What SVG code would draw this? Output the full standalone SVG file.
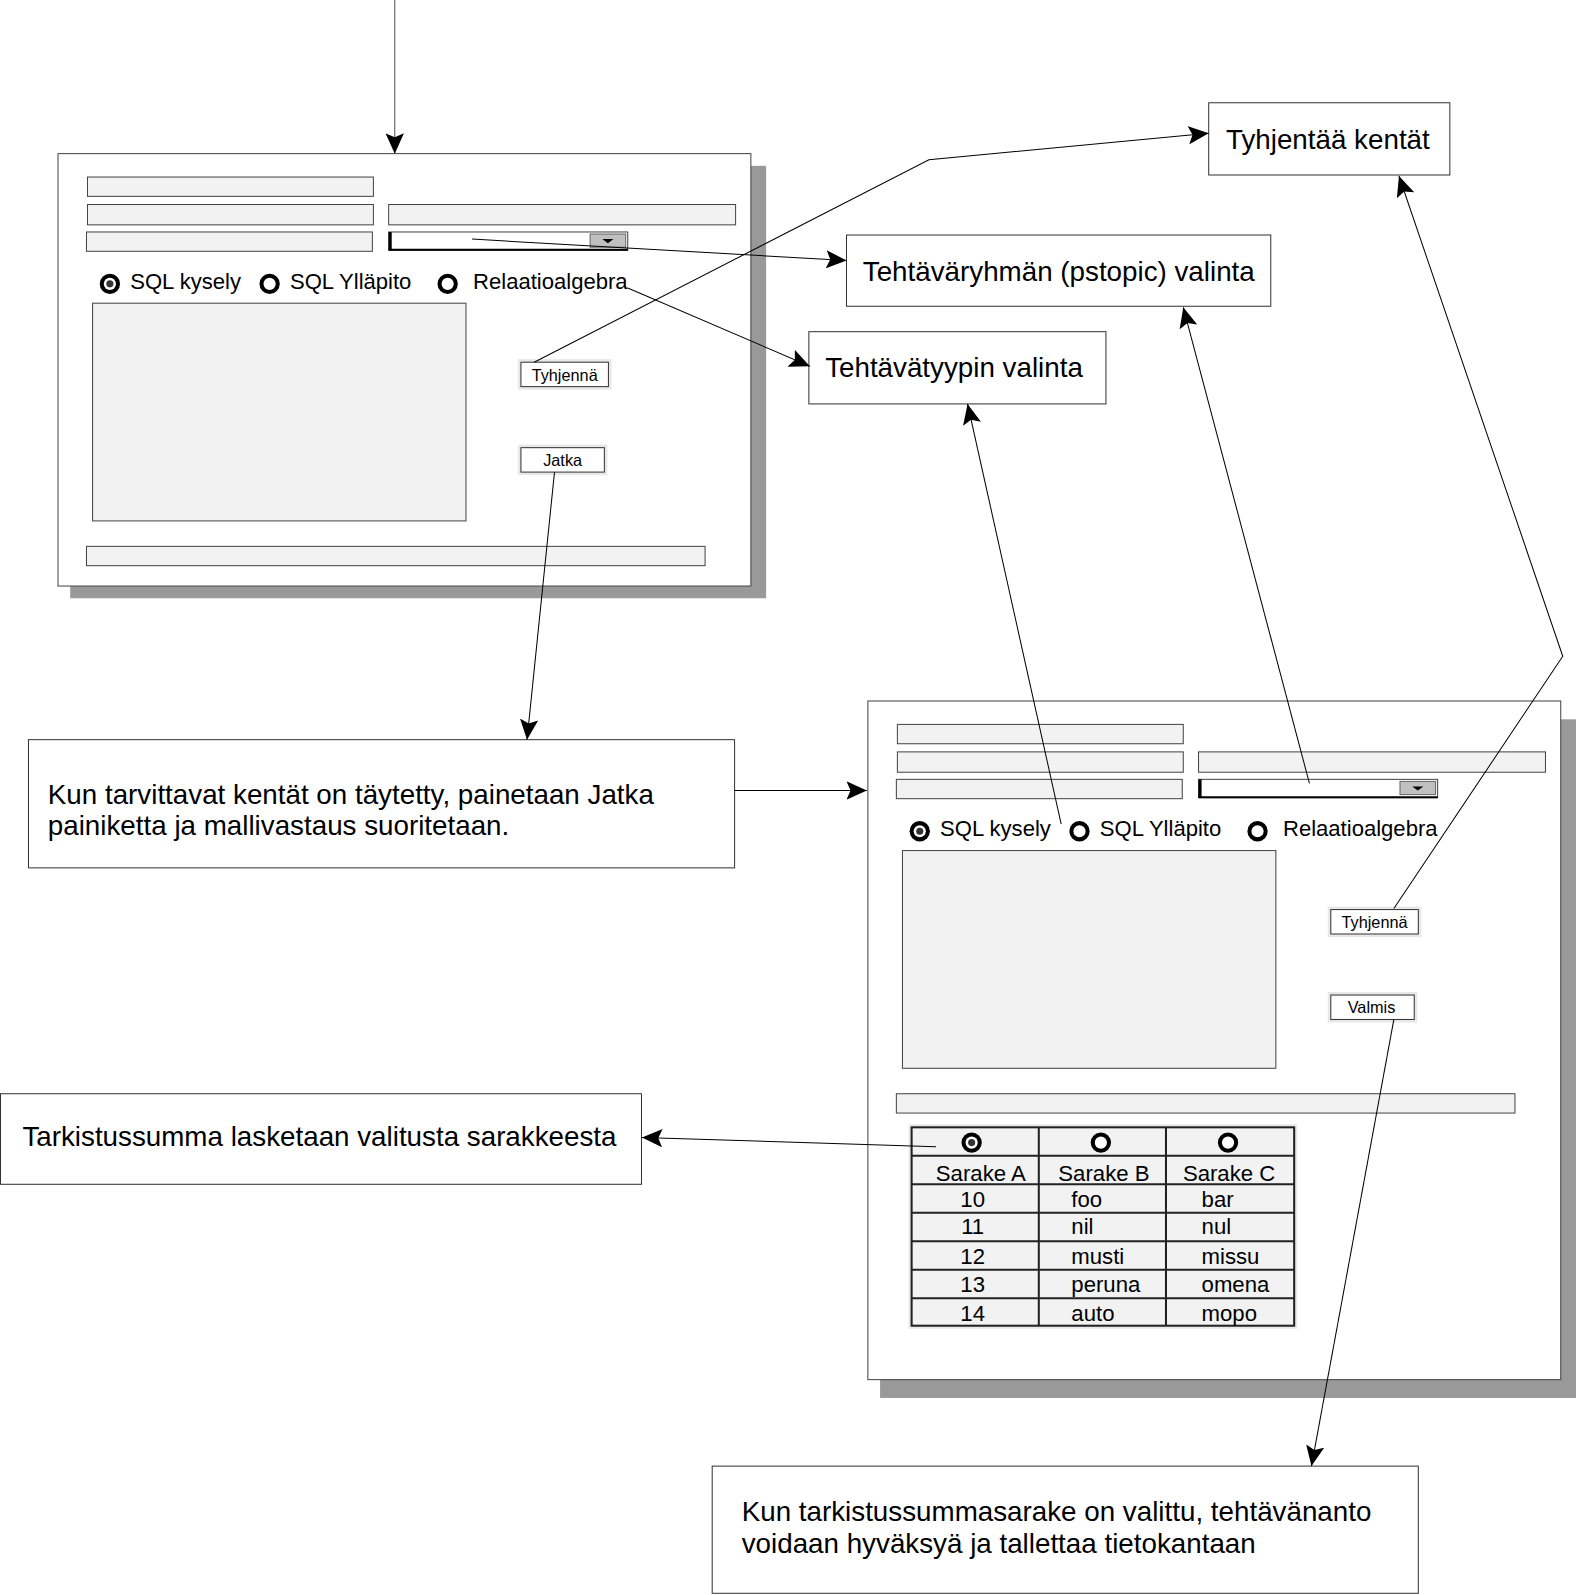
<svg xmlns="http://www.w3.org/2000/svg" width="1576" height="1595" viewBox="0 0 1576 1595">
<defs>
<marker id="ah" viewBox="0 0 20 18" refX="20" refY="9" markerWidth="20" markerHeight="18" markerUnits="userSpaceOnUse" orient="auto">
<path d="M0,0 L20,9 L0,18 L4,9 z" fill="#000"/>
</marker>
<style>
text{font-family:"Liberation Sans",Arial,sans-serif;fill:#000}
.box{fill:#fff;stroke:#333;stroke-width:1}
.bt{font-size:27.3px}
.form{fill:#fff;stroke:#444;stroke-width:1}
.shadow{fill:#999}
.fld{fill:#f2f2f2;stroke:#444;stroke-width:1}
.rl{font-size:21.7px}
.btn{fill:#fff;stroke:#333;stroke-width:1}
.halo{fill:#e8e8e8}
.bl{font-size:16px}
.conn{fill:none;stroke:#000;stroke-width:1;marker-end:url(#ah)}
.ro{fill:#fff;stroke:#000;stroke-width:4}
.grid{stroke:#222;stroke-width:2}
.tt{font-size:21.8px}
</style>
</defs>
<rect width="1576" height="1595" fill="#fff"/>
<g transform="scale(1.01743)">

<g id="form1">
<rect class="shadow" x="69" y="163" width="684" height="425"/>
<rect class="form" x="57" y="151" width="681" height="425"/>
<rect class="fld" x="86" y="174" width="281" height="19"/>
<rect class="fld" x="86" y="201" width="281" height="20"/>
<rect class="fld" x="382" y="201" width="341" height="20"/>
<rect class="fld" x="85" y="228" width="281" height="19"/>
<g id="dropdown1">
<rect x="382" y="228" width="235" height="18" fill="#fff" stroke="#444" stroke-width="1"/>
<line x1="383.5" y1="228" x2="383.5" y2="246" stroke="#000" stroke-width="3"/>
<line x1="382" y1="245.5" x2="617" y2="245.5" stroke="#000" stroke-width="2"/>
<rect x="580" y="230" width="35" height="13" fill="#c0c0c0" stroke="#666" stroke-width="1"/>
<path d="M592,235 L603,235 L597.5,239 z" fill="#000"/>
</g>
<circle cx="108" cy="279" r="10" fill="#000"/>
<circle cx="108" cy="279" r="6" fill="#fff"/>
<circle cx="108" cy="279" r="3.5" fill="#333"/>
<text class="rl" x="128" y="284">SQL kysely</text>
<circle class="ro" cx="265" cy="279" r="8"/>
<text class="rl" x="285" y="284">SQL Ylläpito</text>
<circle class="ro" cx="440" cy="279" r="8"/>
<text class="rl" x="465" y="284">Relaatioalgebra</text>
<rect class="fld" x="91" y="298" width="367" height="214"/>
<rect class="halo" x="509" y="353" width="92" height="30"/>
<rect class="btn" x="512" y="356" width="86" height="24"/>
<text class="bl" x="555" y="374" text-anchor="middle">Tyhjennä</text>
<rect class="halo" x="509" y="437" width="88" height="30"/>
<rect class="btn" x="512" y="440" width="82" height="24"/>
<text class="bl" x="553" y="458" text-anchor="middle">Jatka</text>
<rect class="fld" x="85" y="537" width="608" height="19"/>
</g>

<g id="form2">
<rect class="shadow" x="865" y="707" width="684" height="667"/>
<rect class="form" x="853" y="689" width="681" height="667"/>
<rect class="fld" x="882" y="712" width="281" height="19"/>
<rect class="fld" x="882" y="739" width="281" height="20"/>
<rect class="fld" x="1178" y="739" width="341" height="20"/>
<rect class="fld" x="881" y="766" width="281" height="19"/>
<g id="dropdown2">
<rect x="1178" y="766" width="235" height="18" fill="#fff" stroke="#444" stroke-width="1"/>
<line x1="1179.5" y1="766" x2="1179.5" y2="784" stroke="#000" stroke-width="3"/>
<line x1="1178" y1="783.5" x2="1413" y2="783.5" stroke="#000" stroke-width="2"/>
<rect x="1376" y="768" width="35" height="13" fill="#c0c0c0" stroke="#666" stroke-width="1"/>
<path d="M1388,773 L1399,773 L1393.5,777 z" fill="#000"/>
</g>
<circle cx="904" cy="817" r="10" fill="#000"/>
<circle cx="904" cy="817" r="6" fill="#fff"/>
<circle cx="904" cy="817" r="3.5" fill="#333"/>
<text class="rl" x="924" y="822">SQL kysely</text>
<circle class="ro" cx="1061" cy="817" r="8"/>
<text class="rl" x="1081" y="822">SQL Ylläpito</text>
<circle class="ro" cx="1236" cy="817" r="8"/>
<text class="rl" x="1261" y="822">Relaatioalgebra</text>
<rect class="fld" x="887" y="836" width="367" height="214"/>
<rect class="halo" x="1305" y="891" width="92" height="30"/>
<rect class="btn" x="1308" y="894" width="86" height="24"/>
<text class="bl" x="1351" y="912" text-anchor="middle">Tyhjennä</text>
<rect class="halo" x="1305" y="975" width="88" height="30"/>
<rect class="btn" x="1308" y="978" width="82" height="24"/>
<text class="bl" x="1348" y="996" text-anchor="middle">Valmis</text>
<rect class="fld" x="881" y="1075" width="608" height="19"/>
</g>

<g id="table">
<rect x="893" y="1105" width="382" height="201" fill="#e8e8e8"/>
<rect x="896" y="1108" width="376" height="195" fill="#f2f2f2" stroke="#222" stroke-width="2"/>
<g class="grid">
<line x1="1021" y1="1108" x2="1021" y2="1303"/>
<line x1="1146" y1="1108" x2="1146" y2="1303"/>
<line x1="896" y1="1136" x2="1272" y2="1136"/>
<line x1="896" y1="1164" x2="1272" y2="1164"/>
<line x1="896" y1="1192" x2="1272" y2="1192"/>
<line x1="896" y1="1220" x2="1272" y2="1220"/>
<line x1="896" y1="1248" x2="1272" y2="1248"/>
<line x1="896" y1="1276" x2="1272" y2="1276"/>
</g>
<circle cx="955" cy="1123" r="10" fill="#000"/>
<circle cx="955" cy="1123" r="6" fill="#fff"/>
<circle cx="955" cy="1123" r="3.5" fill="#333"/>
<circle class="ro" cx="1082" cy="1123" r="8"/>
<circle class="ro" cx="1207" cy="1123" r="8"/>
<text class="tt" x="964" y="1161" text-anchor="middle">Sarake A</text>
<text class="tt" x="1085" y="1161" text-anchor="middle">Sarake B</text>
<text class="tt" x="1208" y="1161" text-anchor="middle">Sarake C</text>
<text class="tt" x="956" y="1186" text-anchor="middle">10</text>
<text class="tt" x="1053" y="1186">foo</text>
<text class="tt" x="1181" y="1186">bar</text>
<text class="tt" x="956" y="1213" text-anchor="middle">11</text>
<text class="tt" x="1053" y="1213">nil</text>
<text class="tt" x="1181" y="1213">nul</text>
<text class="tt" x="956" y="1242" text-anchor="middle">12</text>
<text class="tt" x="1053" y="1242">musti</text>
<text class="tt" x="1181" y="1242">missu</text>
<text class="tt" x="956" y="1270" text-anchor="middle">13</text>
<text class="tt" x="1053" y="1270">peruna</text>
<text class="tt" x="1181" y="1270">omena</text>
<text class="tt" x="956" y="1298" text-anchor="middle">14</text>
<text class="tt" x="1053" y="1298">auto</text>
<text class="tt" x="1181" y="1298">mopo</text>
</g>

<g id="box-tyhjentaa">
<rect class="box" x="1188" y="101" width="237" height="71"/>
<text class="bt" x="1205" y="146">Tyhjentää kentät</text>
</g>
<g id="box-tehtavaryhma">
<rect class="box" x="832" y="231" width="417" height="70"/>
<text class="bt" x="848" y="276">Tehtäväryhmän (pstopic) valinta</text>
</g>
<g id="box-tehtavatyyppi">
<rect class="box" x="795" y="326" width="292" height="71"/>
<text class="bt" x="811" y="371">Tehtävätyypin valinta</text>
</g>
<g id="box-kun1">
<rect class="box" x="28" y="727" width="694" height="126"/>
<text class="bt" x="47" y="790">Kun tarvittavat kentät on täytetty, painetaan Jatka</text>
<text class="bt" x="47" y="821">painiketta ja mallivastaus suoritetaan.</text>
</g>
<g id="box-tarkistussumma">
<rect class="box" x="0.5" y="1075" width="630" height="89"/>
<text class="bt" x="22" y="1126">Tarkistussumma lasketaan valitusta sarakkeesta</text>
</g>
<g id="box-kun2">
<rect class="box" x="700" y="1441" width="694" height="125"/>
<text class="bt" x="729" y="1495">Kun tarkistussummasarake on valittu, tehtävänanto</text>
<text class="bt" x="729" y="1526">voidaan hyväksyä ja tallettaa tietokantaan</text>
</g>

<g id="connectors">
<path class="conn" d="M388,0 L388,151" style="stroke:#555"/>
<path class="conn" d="M464,235 L832,256"/>
<path class="conn" d="M617,283 L796,360"/>
<path class="conn" d="M525,356 L913,157 L1188,131"/>
<path class="conn" d="M545,464 L518,727"/>
<path class="conn" d="M722,777 L852,777"/>
<path class="conn" d="M1043,810 L951,397"/>
<path class="conn" d="M1287,770 L1163,302"/>
<path class="conn" d="M1370,893 L1536,645 L1375,173"/>
<path class="conn" d="M920,1127 L631,1118"/>
<path class="conn" d="M1370,1002 L1289,1441"/>
</g>
</g>
</svg>
